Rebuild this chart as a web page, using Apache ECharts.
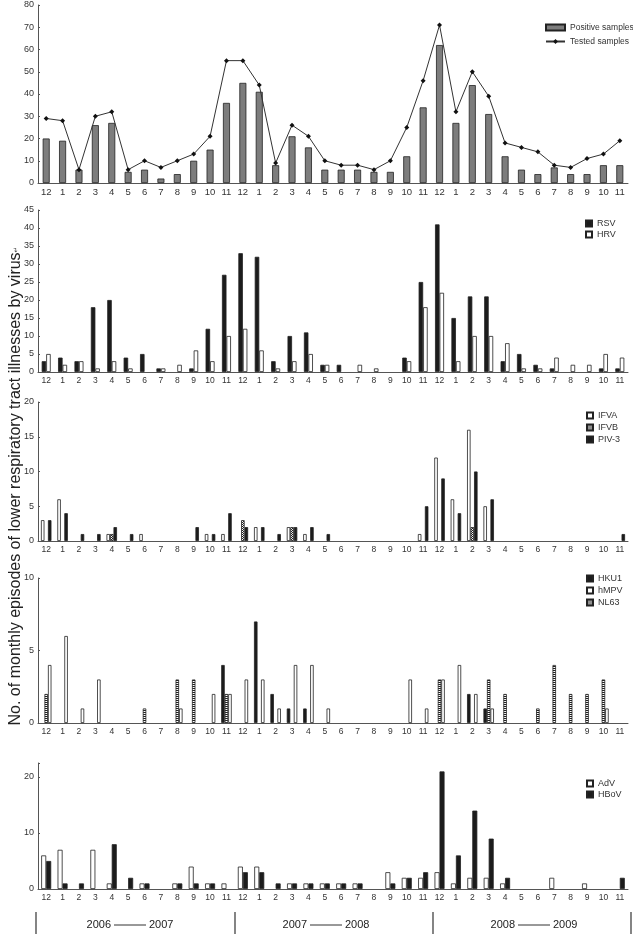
<!DOCTYPE html>
<html>
<head>
<meta charset="utf-8">
<script src="https://cdn.jsdelivr.net/npm/echarts@6/dist/echarts.min.js"></script>
<style>
  html, body { margin: 0; padding: 0; background: #fff; }
  #main { width: 633px; height: 934px; }
</style>
</head>
<body>
<div id="main"></div>
<script>
// months Dec 2006 .. Nov 2009
const months = ['12','1','2','3','4','5','6','7','8','9','10','11',
                '12','1','2','3','4','5','6','7','8','9','10','11',
                '12','1','2','3','4','5','6','7','8','9','10','11'];

// panel 1
const positive = [20,19,6,26,27,5,6,2,4,10,15,36, 45,41,8,21,16,6,6,6,5,5,12,34, 62,27,44,31,12,6,4,7,4,4,8,8];
const tested   = [29,28,6,30,32,6,10,7,10,13,21,55, 55,44,9,26,21,10,8,8,6,10,25,46, 71,32,50,39,18,16,14,8,7,11,13,19];

// panel 2
const rsv = [3,4,3,18,20,4,5,1,0,1,12,27, 33,32,3,10,11,2,2,0,0,0,4,25, 41,15,21,21,3,5,2,1,0,0,1,1];
const hrv = [5,2,3,1,3,1,0,1,2,6,3,10, 12,6,1,3,5,2,0,2,1,0,3,18, 22,3,10,10,8,1,1,4,2,2,5,4];

// panel 3
const ifva = [3,6,0,0,1,0,1,0,0,0,1,1, 0,2,0,2,1,0,0,0,0,0,0,1, 12,6,16,5,0,0,0,0,0,0,0,0];
const ifvb = [0,0,0,0,1,0,0,0,0,0,0,0, 3,0,0,2,0,0,0,0,0,0,0,0, 0,0,2,0,0,0,0,0,0,0,0,0];
const piv3 = [3,4,1,1,2,1,0,0,0,2,1,4, 2,2,1,2,2,1,0,0,0,0,0,5, 9,4,10,6,0,0,0,0,0,0,0,1];

// panel 4
const hku1 = [0,0,0,0,0,0,0,0,0,0,0,4, 0,7,2,1,1,0,0,0,0,0,0,0, 0,0,2,1,0,0,0,0,0,0,0,0];
const nl63 = [2,0,0,0,0,0,1,0,3,3,0,2, 0,0,0,0,0,0,0,0,0,0,0,0, 3,0,0,3,2,0,1,4,2,2,3,0];
const hmpv = [4,6,1,3,0,0,0,0,1,0,2,2, 3,3,1,4,4,1,0,0,0,0,3,1, 3,4,2,1,0,0,0,0,0,0,1,0];

// panel 5
const adv  = [6,7,0,7,1,0,1,0,1,4,1,1, 4,4,0,1,1,1,1,1,0,3,2,2, 3,1,2,2,1,0,0,2,0,1,0,0];
const hbov = [5,1,1,0,8,2,1,0,1,1,1,0, 3,3,1,1,1,1,1,1,0,1,2,3, 21,6,14,9,2,0,0,0,0,0,0,2];

const FONT = 'Liberation Sans, Arial, sans-serif';
const AX = '#555';
const DARK = '#1c1c1c';

function nz(arr){ return arr.map(v => v ? v : '-'); }

// small hatch patterns
function pattern(kind){
  const c = document.createElement('canvas');
  c.width = 4; c.height = 4;
  const g = c.getContext('2d');
  g.fillStyle = '#fff'; g.fillRect(0,0,4,4);
  g.fillStyle = '#222';
  if (kind === 'h') {
    g.fillRect(0,0,4,1); g.fillRect(0,2,4,1);
  } else {
    for (let i=0;i<4;i++){ g.fillRect(i,i,1,1); g.fillRect(i,(i+2)%4,1,1); }
  }
  return { image: c, repeat: 'repeat' };
}

const grids = [
  {left: 38, width: 590, top: 5,   height: 178},
  {left: 38, width: 590, top: 210, height: 162},
  {left: 38, width: 590, top: 402, height: 139},
  {left: 38, width: 590, top: 578, height: 145},
  {left: 38, width: 590, top: 763, height: 126}
];

function xAx(gi, fs){
  return {
    type: 'category', gridIndex: gi, data: months, boundaryGap: true,
    axisLine: {lineStyle: {color: AX, width: 1}},
    axisTick: {inside: true, length: 2, lineStyle: {color: AX}},
    axisLabel: {fontSize: fs, color: '#333', margin: 4, interval: 0, fontFamily: FONT}
  };
}
function yAx(gi, max, interval){
  return {
    type: 'value', gridIndex: gi, min: 0, max: max, interval: interval,
    splitLine: {show: false},
    axisLine: {show: true, lineStyle: {color: AX}},
    axisTick: {show: true, inside: true, length: 2, lineStyle: {color: AX}},
    axisLabel: {fontSize: 9, color: '#333', margin: 4, fontFamily: FONT,
      formatter: v => (v % interval === 0 ? v : '')}
  };
}

function bar(name, gi, data, color, width, gap){
  return {
    name: name, type: 'bar', xAxisIndex: gi, yAxisIndex: gi, data: nz(data),
    barWidth: width, barGap: gap || '0%',
    itemStyle: {color: color, borderColor: '#222', borderWidth: 0.8},
    emphasis: {disabled: true}
  };
}

const legendBase = {
  orient: 'vertical', icon: 'rect', itemWidth: 6, itemHeight: 6, itemGap: 3,
  textStyle: {fontSize: 9, color: '#333', fontFamily: FONT}, selectedMode: false
};

const hatchB = pattern('d');
const hatchN = pattern('h');

const option = {
  animation: false,
  backgroundColor: '#fff',
  grid: grids,
  xAxis: [xAx(0, 9.5), xAx(1, 8.5), xAx(2, 8.5), xAx(3, 8.5), xAx(4, 8.5)],
  yAxis: [yAx(0, 80, 10), yAx(1, 45, 5), yAx(2, 20, 5), yAx(3, 10, 5), yAx(4, 22.5, 10)],
  legend: [
    {orient: 'vertical', left: 540, top: 18, itemWidth: 19, itemHeight: 6, itemGap: 5,
      selectedMode: false,
      textStyle: {fontSize: 8.5, color: '#333', fontFamily: FONT},
      data: [{name: 'Positive samples', icon: 'rect'}, {name: 'Tested samples'}]},
    Object.assign({}, legendBase, {left: 580, top: 214, itemGap: 2, data: ['RSV', 'HRV']}),
    Object.assign({}, legendBase, {left: 581, top: 406, data: ['IFVA', 'IFVB', 'PIV-3']}),
    Object.assign({}, legendBase, {left: 581, top: 569, data: ['HKU1', 'hMPV', 'NL63']}),
    Object.assign({}, legendBase, {left: 581, top: 774, itemGap: 2, data: ['AdV', 'HBoV']})
  ],
  series: [
    bar('Positive samples', 0, positive, '#7d7d7d', 7),
    {
      name: 'Tested samples', type: 'line', xAxisIndex: 0, yAxisIndex: 0, data: tested,
      symbol: 'diamond', symbolSize: 5,
      lineStyle: {color: '#333', width: 1}, itemStyle: {color: '#111'},
      emphasis: {disabled: true}
    },
    bar('RSV', 1, rsv, DARK, 4.5),
    bar('HRV', 1, hrv, '#fff', 4.5),
    bar('IFVA', 2, ifva, '#fff', 3.5),
    bar('IFVB', 2, ifvb, hatchB, 3.5),
    bar('PIV-3', 2, piv3, DARK, 3.5),
    bar('HKU1', 3, hku1, DARK, 3.5),
    bar('NL63', 3, nl63, hatchN, 3.5),
    bar('hMPV', 3, hmpv, '#fff', 3.5),
    bar('AdV', 4, adv, '#fff', 5),
    bar('HBoV', 4, hbov, DARK, 5)
  ],
  graphic: []
};

// y title
option.graphic.push({
  type: 'text', x: 16, y: 486, rotation: Math.PI / 2,
  style: {
    text: 'No. of monthly episodes of lower respiratory tract illnesses by virus{s|\u21b5}',
    font: '16px ' + FONT, fill: '#222', textAlign: 'center', textVerticalAlign: 'middle',
    rich: {s: {fontSize: 7, fill: '#444', fontFamily: 'DejaVu Sans'}}
  }
});

// season brackets at the bottom
[36, 235, 433, 631].forEach(x => {
  option.graphic.push({type: 'line', shape: {x1: x, y1: 912, x2: x, y2: 934},
    style: {stroke: '#333', lineWidth: 1.2}});
});
[[130, '2006', '2007'], [326, '2007', '2008'], [534, '2008', '2009']].forEach(s => {
  const cx = s[0], y = 925;
  option.graphic.push({type: 'text', x: cx - 19, y: y,
    style: {text: s[1], font: '11px ' + FONT, fill: '#222', textAlign: 'right', textVerticalAlign: 'middle'}});
  option.graphic.push({type: 'line', shape: {x1: cx - 16, y1: y, x2: cx + 16, y2: y},
    style: {stroke: '#333', lineWidth: 1}});
  option.graphic.push({type: 'text', x: cx + 19, y: y,
    style: {text: s[2], font: '11px ' + FONT, fill: '#222', textAlign: 'left', textVerticalAlign: 'middle'}});
});

const chart = echarts.init(document.getElementById('main'), null, {renderer: 'canvas'});
chart.setOption(option);
window.addEventListener('resize', function(){ chart.resize(); });
</script>
</body>
</html>
